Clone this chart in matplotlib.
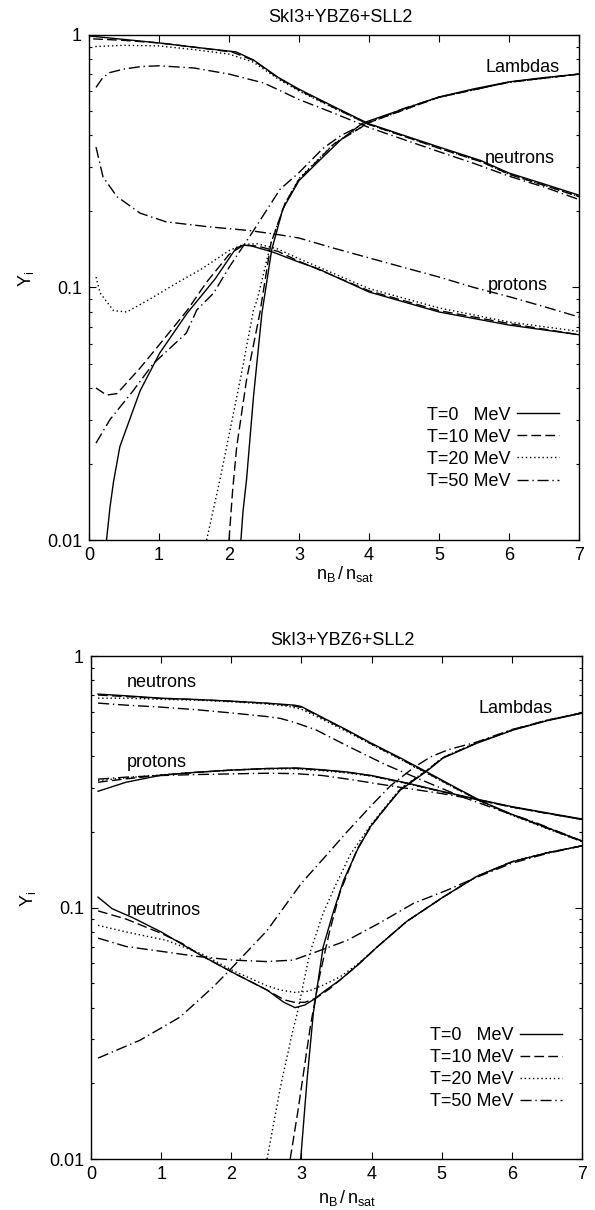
import matplotlib
matplotlib.use('Agg')
import matplotlib.pyplot as plt
from matplotlib.ticker import NullFormatter

plt.rcParams['font.family'] = ['Liberation Sans', 'DejaVu Sans']
plt.rcParams['mathtext.fontset'] = 'custom'
plt.rcParams['mathtext.rm'] = 'Liberation Sans'
plt.rcParams['mathtext.it'] = 'Liberation Sans:italic'

title = 'SkI3+YBZ6+SLL2'
temps = ['T=0   MeV', 'T=10 MeV', 'T=20 MeV', 'T=50 MeV']
styles = ['-', (0, (7, 3)), (0, (1, 2)), (0, (8, 2.7, 1, 2.7))]

# ---- upper panel: neutrino-free matter ----
# T=0
a_n0_x = [0.02, 0.5, 1, 1.5, 2.1, 2.35, 2.7, 3, 3.5, 4, 4.5, 5, 5.6, 6, 6.5, 7]
a_n0_y = [0.99, 0.96, 0.93, 0.895, 0.857, 0.796, 0.68, 0.61, 0.52, 0.445, 0.40, 0.36, 0.318, 0.284, 0.257, 0.232]
a_p0_x = [0.25, 0.3, 0.35, 0.44, 0.73, 1.01, 1.4, 1.8, 2.1, 2.2, 2.3, 2.63, 3.0, 3.26, 4, 5, 6, 7]
a_p0_y = [0.01, 0.0135, 0.017, 0.0234, 0.039, 0.055, 0.079, 0.108, 0.143, 0.147, 0.1466, 0.138, 0.126, 0.119, 0.096, 0.080, 0.071, 0.065]
a_l0_x = [2.17, 2.2, 2.25, 2.35, 2.47, 2.61, 2.77, 3.0, 3.3, 3.6, 3.91, 4.5, 5.0, 5.5, 6.0, 6.5, 7.0]
a_l0_y = [0.01, 0.013, 0.0173, 0.037, 0.079, 0.141, 0.205, 0.265, 0.32, 0.385, 0.448, 0.51, 0.568, 0.612, 0.652, 0.678, 0.70]
# T=10
a_n10_x = [0.06, 0.5, 1, 1.5, 2.05, 2.35, 2.7, 3, 3.5, 4, 4.5, 5, 5.6, 6, 6.5, 7]
a_n10_y = [0.965, 0.952, 0.93, 0.895, 0.855, 0.793, 0.677, 0.605, 0.515, 0.442, 0.397, 0.356, 0.315, 0.281, 0.254, 0.229]
a_p10_x = [0.1, 0.25, 0.4, 0.73, 1.06, 1.4, 1.68, 2.0, 2.2, 2.4, 2.7, 3, 4, 5, 6, 7]
a_p10_y = [0.040, 0.0375, 0.038, 0.048, 0.062, 0.081, 0.105, 0.135, 0.147, 0.146, 0.139, 0.127, 0.097, 0.081, 0.072, 0.065]
a_l10_x = [2.0, 2.05, 2.11, 2.25, 2.44, 2.6, 2.8, 3.0, 3.5, 4, 5, 6, 7]
a_l10_y = [0.01, 0.0155, 0.0234, 0.043, 0.079, 0.15, 0.215, 0.268, 0.37, 0.45, 0.567, 0.65, 0.70]
# T=20
a_n20_x = [0.09, 0.5, 1, 1.5, 2.0, 2.35, 2.7, 3, 3.5, 4, 4.5, 5, 5.6, 6, 6.5, 7]
a_n20_y = [0.90, 0.91, 0.905, 0.875, 0.84, 0.78, 0.67, 0.60, 0.513, 0.442, 0.397, 0.356, 0.315, 0.281, 0.254, 0.229]
a_p20_x = [0.1, 0.16, 0.35, 0.54, 0.87, 1.3, 1.6, 2.0, 2.2, 2.4, 2.7, 3, 4, 5, 6, 7]
a_p20_y = [0.11, 0.095, 0.081, 0.080, 0.09, 0.106, 0.118, 0.14, 0.148, 0.149, 0.142, 0.130, 0.099, 0.083, 0.073, 0.067]
a_l20_x = [1.68, 1.87, 2.16, 2.35, 2.4, 2.6, 2.8, 3.0, 3.5, 4, 5, 6, 7]
a_l20_y = [0.01, 0.0173, 0.043, 0.0815, 0.089, 0.15, 0.215, 0.27, 0.372, 0.45, 0.567, 0.65, 0.70]
# T=50
a_n50_x = [0.1, 0.2, 0.3, 0.5, 0.75, 1, 1.5, 2, 2.5, 3, 3.5, 4, 4.5, 5, 5.5, 6, 6.5, 7]
a_n50_y = [0.62, 0.68, 0.71, 0.733, 0.75, 0.755, 0.74, 0.70, 0.645, 0.555, 0.49, 0.43, 0.385, 0.345, 0.31, 0.276, 0.25, 0.223]
a_p50_x = [0.1, 0.2, 0.4, 0.73, 1.1, 1.7, 2.3, 2.7, 3.0, 3.5, 4.0, 4.5, 5.0, 5.5, 6, 6.5, 7]
a_p50_y = [0.36, 0.274, 0.229, 0.197, 0.182, 0.174, 0.168, 0.162, 0.157, 0.143, 0.131, 0.12, 0.11, 0.1, 0.092, 0.084, 0.0764]
a_l50_x = [0.1, 0.3, 0.63, 0.92, 1.39, 1.54, 1.78, 2.0, 2.35, 2.73, 3.0, 3.34, 3.6, 3.9, 4.5, 5, 6, 7]
a_l50_y = [0.0242, 0.030, 0.039, 0.050, 0.066, 0.0815, 0.095, 0.12, 0.168, 0.245, 0.285, 0.355, 0.40, 0.44, 0.512, 0.567, 0.65, 0.70]

# ---- lower panel: neutrino-trapped matter ----
# T=0
b_n0_x = [0.1, 0.5, 1, 1.5, 2, 2.5, 2.9, 3.0, 3.3, 3.65, 4, 4.4, 4.79, 5.2, 5.59, 6, 6.5, 7]
b_n0_y = [0.706, 0.695, 0.68, 0.672, 0.662, 0.65, 0.638, 0.63, 0.57, 0.508, 0.45, 0.395, 0.346, 0.30, 0.263, 0.235, 0.208, 0.184]
b_p0_x = [0.1, 0.5, 1, 1.5, 2, 2.5, 2.94, 3.3, 3.65, 4, 4.5, 5, 5.55, 6, 6.5, 7]
b_p0_y = [0.29, 0.315, 0.336, 0.345, 0.352, 0.357, 0.359, 0.353, 0.346, 0.335, 0.313, 0.29, 0.268, 0.252, 0.238, 0.225]
b_l0_x = [2.99, 3.08, 3.17, 3.31, 3.45, 3.6, 3.8, 3.98, 4.2, 4.41, 4.79, 5.02, 5.5, 6.02, 6.5, 7]
b_l0_y = [0.01, 0.0206, 0.038, 0.0697, 0.095, 0.128, 0.17, 0.209, 0.25, 0.293, 0.349, 0.393, 0.45, 0.508, 0.553, 0.593]
b_v0_x = [0.1, 0.3, 0.6, 1, 1.55, 2.03, 2.51, 2.75, 2.91, 3.05, 3.17, 3.35, 3.55, 3.8, 4.08, 4.5, 5.02, 5.5, 6, 6.5, 7]
b_v0_y = [0.110, 0.099, 0.091, 0.080, 0.065, 0.055, 0.047, 0.042, 0.040, 0.041, 0.043, 0.047, 0.0515, 0.059, 0.0697, 0.088, 0.11, 0.133, 0.152, 0.165, 0.176]
# T=10
b_n10_x = [0.1, 0.5, 1, 1.5, 2, 2.5, 2.85, 3.0, 3.3, 3.65, 4, 4.4, 4.79, 5.2, 5.59, 6, 6.5, 7]
b_n10_y = [0.70, 0.69, 0.678, 0.671, 0.661, 0.649, 0.636, 0.625, 0.567, 0.505, 0.447, 0.392, 0.343, 0.298, 0.262, 0.234, 0.207, 0.183]
b_p10_x = [0.1, 0.5, 1, 1.5, 2, 2.5, 2.9, 3.3, 3.65, 4, 4.5, 5, 5.55, 6, 6.5, 7]
b_p10_y = [0.315, 0.325, 0.336, 0.345, 0.352, 0.357, 0.358, 0.352, 0.345, 0.334, 0.312, 0.289, 0.267, 0.251, 0.237, 0.224]
b_l10_x = [2.84, 2.95, 3.05, 3.13, 3.25, 3.4, 3.55, 3.8, 4.0, 4.41, 4.79, 5.02, 5.5, 6.02, 6.5, 7]
b_l10_y = [0.01, 0.0155, 0.024, 0.034, 0.052, 0.08, 0.115, 0.172, 0.212, 0.295, 0.351, 0.395, 0.452, 0.51, 0.555, 0.595]
b_v10_x = [0.1, 0.5, 1, 1.3, 1.55, 2.03, 2.51, 2.75, 2.9, 3.05, 3.2, 3.4, 3.8, 4.08, 4.5, 5.02, 5.5, 6, 6.5, 7]
b_v10_y = [0.097, 0.09, 0.079, 0.072, 0.065, 0.055, 0.047, 0.043, 0.042, 0.042, 0.0435, 0.0475, 0.059, 0.0697, 0.088, 0.11, 0.133, 0.152, 0.165, 0.176]
# T=20
b_n20_x = [0.1, 0.5, 1, 1.5, 2, 2.5, 2.8, 3.0, 3.3, 3.65, 4, 4.4, 4.79, 5.2, 5.59, 6, 6.5, 7]
b_n20_y = [0.68, 0.68, 0.673, 0.668, 0.658, 0.645, 0.632, 0.615, 0.56, 0.5, 0.445, 0.39, 0.342, 0.297, 0.261, 0.233, 0.206, 0.183]
b_p20_x = [0.1, 0.5, 1, 1.5, 2, 2.5, 2.9, 3.3, 3.65, 4, 4.5, 5, 5.55, 6, 6.5, 7]
b_p20_y = [0.32, 0.328, 0.337, 0.345, 0.352, 0.356, 0.356, 0.35, 0.343, 0.333, 0.311, 0.289, 0.267, 0.251, 0.237, 0.224]
b_l20_x = [2.51, 2.7, 2.88, 2.94, 3.12, 3.31, 3.5, 3.7, 4.0, 4.41, 4.79, 5.02, 5.5, 6.02, 6.5, 7]
b_l20_y = [0.01, 0.0193, 0.0326, 0.038, 0.066, 0.095, 0.125, 0.163, 0.215, 0.297, 0.352, 0.396, 0.453, 0.51, 0.556, 0.596]
b_v20_x = [0.1, 0.5, 1.08, 1.6, 2.03, 2.5, 2.7, 2.9, 3.1, 3.3, 3.55, 3.8, 4.08, 4.5, 5.02, 5.5, 6, 6.5, 7]
b_v20_y = [0.085, 0.08, 0.074, 0.065, 0.056, 0.049, 0.047, 0.046, 0.0465, 0.049, 0.053, 0.0595, 0.0697, 0.088, 0.11, 0.133, 0.152, 0.165, 0.176]
# T=50
b_n50_x = [0.1, 0.5, 0.98, 1.5, 2.03, 2.5, 2.7, 2.88, 3.2, 3.65, 4.2, 4.79, 5.3, 5.8, 6.3, 7]
b_n50_y = [0.65, 0.638, 0.627, 0.612, 0.593, 0.575, 0.565, 0.547, 0.51, 0.44, 0.37, 0.315, 0.275, 0.245, 0.22, 0.184]
b_p50_x = [0.1, 0.5, 1, 1.5, 2, 2.5, 2.9, 3.3, 3.7, 4.1, 4.5, 5, 5.55, 6, 6.5, 7]
b_p50_y = [0.324, 0.33, 0.335, 0.338, 0.34, 0.342, 0.341, 0.335, 0.323, 0.31, 0.298, 0.284, 0.267, 0.251, 0.237, 0.224]
b_l50_x = [0.1, 0.7, 1.27, 1.74, 1.98, 2.51, 3.0, 3.3, 3.65, 4.0, 4.27, 4.6, 4.84, 5.1, 5.5, 6, 6.5, 7]
b_l50_y = [0.0252, 0.0297, 0.0367, 0.0483, 0.0565, 0.081, 0.125, 0.155, 0.2, 0.255, 0.305, 0.36, 0.397, 0.425, 0.455, 0.51, 0.555, 0.593]
b_v50_x = [0.1, 0.5, 1.08, 1.5, 2.03, 2.5, 2.88, 3.17, 3.65, 4.12, 4.6, 5.07, 5.5, 6, 6.5, 7]
b_v50_y = [0.0756, 0.07, 0.0665, 0.064, 0.0618, 0.061, 0.0618, 0.066, 0.074, 0.087, 0.104, 0.117, 0.132, 0.15, 0.164, 0.176]

top_curves = [
    [(a_n0_x, a_n0_y), (a_p0_x, a_p0_y), (a_l0_x, a_l0_y)],
    [(a_n10_x, a_n10_y), (a_p10_x, a_p10_y), (a_l10_x, a_l10_y)],
    [(a_n20_x, a_n20_y), (a_p20_x, a_p20_y), (a_l20_x, a_l20_y)],
    [(a_n50_x, a_n50_y), (a_p50_x, a_p50_y), (a_l50_x, a_l50_y)],
]
bot_curves = [
    [(b_n0_x, b_n0_y), (b_p0_x, b_p0_y), (b_l0_x, b_l0_y), (b_v0_x, b_v0_y)],
    [(b_n10_x, b_n10_y), (b_p10_x, b_p10_y), (b_l10_x, b_l10_y), (b_v10_x, b_v10_y)],
    [(b_n20_x, b_n20_y), (b_p20_x, b_p20_y), (b_l20_x, b_l20_y), (b_v20_x, b_v20_y)],
    [(b_n50_x, b_n50_y), (b_p50_x, b_p50_y), (b_l50_x, b_l50_y), (b_v50_x, b_v50_y)],
]

top_labels = [('Lambdas', 5.67, 0.713), ('neutrons', 5.66, 0.311), ('protons', 5.69, 0.0977)]
bot_labels = [('neutrons', 0.51, 0.753), ('protons', 0.51, 0.362),
              ('Lambdas', 5.53, 0.593), ('neutrinos', 0.51, 0.0933)]

FS = 13

fig = plt.figure(figsize=(5.95, 12.10), dpi=100)
ax1 = fig.add_axes([0.1496, 0.5537, 0.8235, 0.4174])
ax2 = fig.add_axes([0.1530, 0.0421, 0.8250, 0.4157])


def setup(ax, curves, labels, title_x, title_pad, xl_y, leg_anchor):
    handles = []
    for ls, group in zip(styles, curves):
        for i, (xs, ys) in enumerate(group):
            ln, = ax.plot(xs, ys, color='black', lw=1.0, linestyle=ls)
            if i == 0:
                handles.append(ln)
    for txt, x, y in labels:
        ax.text(x, y, txt, fontsize=FS, ha='left', va='baseline')
    ax.set_yscale('log')
    ax.set_xlim(0, 7)
    ax.set_ylim(0.01, 1)
    ax.set_xticks(range(8))
    ax.set_xticklabels([str(i) for i in range(8)])
    ax.set_yticks([0.01, 0.1, 1])
    ax.set_yticklabels(['0.01', '0.1', '1'])
    ax.yaxis.set_minor_formatter(NullFormatter())
    ax.tick_params(which='both', direction='in', top=True, right=True, labelsize=FS, width=0.8)
    ax.tick_params(which='major', length=5, pad=5)
    ax.tick_params(which='minor', length=2.5)
    ax.tick_params(axis='x', pad=5)
    for sp in ax.spines.values():
        sp.set_linewidth(1.0)
    ax.set_title(title, fontsize=FS, pad=title_pad, x=title_x)
    ax.set_xlabel(r'$\mathregular{n_B\,/\,n_{sat}}$', fontsize=FS)
    ax.xaxis.set_label_coords(0.522, xl_y)
    ax.xaxis.label.set_verticalalignment('baseline')
    ax.set_ylabel(r'$\mathregular{Y_i}$', fontsize=FS, va='center')
    ax.yaxis.set_label_coords(-0.128, 0.517)
    ax.legend(handles, temps, loc='upper right', bbox_to_anchor=leg_anchor,
              frameon=False, markerfirst=False, fontsize=FS, handlelength=2.3,
              handletextpad=0.4, labelspacing=0.28, borderaxespad=0, borderpad=0)


setup(ax1, top_curves, top_labels, 0.514, 9, -0.078, (0.959, 0.264))
setup(ax2, bot_curves, bot_labels, 0.513, 8, -0.087, (0.959, 0.262))

fig.savefig('out.png', dpi=100)
